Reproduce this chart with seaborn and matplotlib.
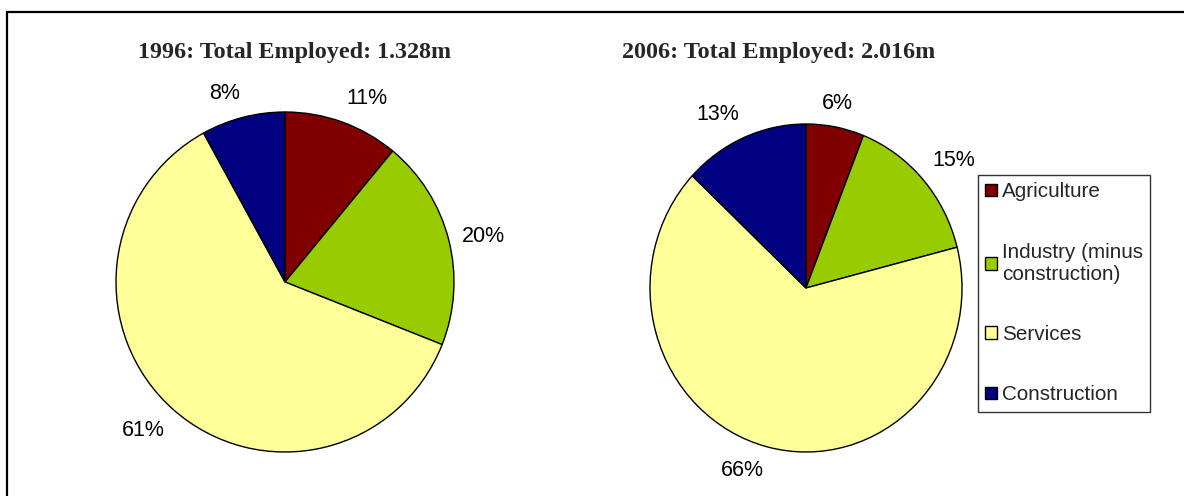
import matplotlib
matplotlib.use("Agg")
import matplotlib.pyplot as plt
import numpy as np
import seaborn as sns
from matplotlib.lines import Line2D

sns.set_theme(style="white")
plt.rcParams['font.family'] = ['Liberation Sans', 'DejaVu Sans']

categories = ["Agriculture", "Industry (minus\nconstruction)", "Services", "Construction"]
values_1996 = [11, 20, 61, 8]
values_2006 = [6, 15, 66, 13]
titles = ["1996: Total Employed: 1.328m", "2006: Total Employed: 2.016m"]
colors = ["#800000", "#99CC00", "#FFFF99", "#000080"]

W, H = 1184, 496
fig = plt.figure(figsize=(W / 100, H / 100), dpi=100)
fig.patch.set_facecolor("white")


def add_pie(cx, cy, rx, ry, vals):
    ax = fig.add_axes([(cx - rx) / W, 1 - (cy + ry) / H, 2 * rx / W, 2 * ry / H])
    wedges, texts, autotexts = ax.pie(
        vals, colors=colors, startangle=90, counterclock=False,
        autopct="%.0f%%", pctdistance=1.1,
        wedgeprops=dict(edgecolor="black", linewidth=1.0),
        textprops=dict(fontsize=15.5, color="black"))
    # Excel-like "outside end" label alignment
    for w, t in zip(wedges, autotexts):
        th = np.deg2rad((w.theta1 + w.theta2) / 2)
        c, s = np.cos(th), np.sin(th)
        t.set_position((1.08 * c, 1.08 * s))
        t.set_ha("center" if abs(c) < 0.2 else ("left" if c > 0 else "right"))
        t.set_va("center" if abs(s) < 0.35 else ("bottom" if s > 0 else "top"))
    ax.set_aspect("auto")
    ax.set_xlim(-1, 1)
    ax.set_ylim(-1, 1)
    ax.axis("off")
    return wedges


w1 = add_pie(285, 282, 169, 170, values_1996)
w2 = add_pie(806, 288, 156, 164, values_2006)

fig.text(295 / W, 1 - 58 / H, titles[0], ha="center", va="baseline",
         fontsize=17.4, fontweight="bold", family="Liberation Serif")
fig.text(778.5 / W, 1 - 58 / H, titles[1], ha="center", va="baseline",
         fontsize=17.4, fontweight="bold", family="Liberation Serif")

leg = fig.legend(w2, categories, loc="upper left",
                 bbox_to_anchor=(978 / W, 1 - 175 / H), borderaxespad=0,
                 fontsize=14.9, frameon=True, fancybox=False,
                 handlelength=0.55, handleheight=0.55, handletextpad=0.25,
                 labelspacing=2.0, borderpad=0.35)
leg.get_frame().set_edgecolor("black")
leg.get_frame().set_linewidth(1.0)
leg.get_frame().set_facecolor("white")

# outer chart border (left and top visible)
fig.add_artist(Line2D([7 / W, 7 / W], [0, 1 - 12 / H], color="black", lw=1.6,
                      transform=fig.transFigure))
fig.add_artist(Line2D([7 / W, 1], [1 - 12 / H, 1 - 12 / H], color="black", lw=1.6,
                      transform=fig.transFigure))

fig.savefig("out.png", dpi=100, facecolor="white")
